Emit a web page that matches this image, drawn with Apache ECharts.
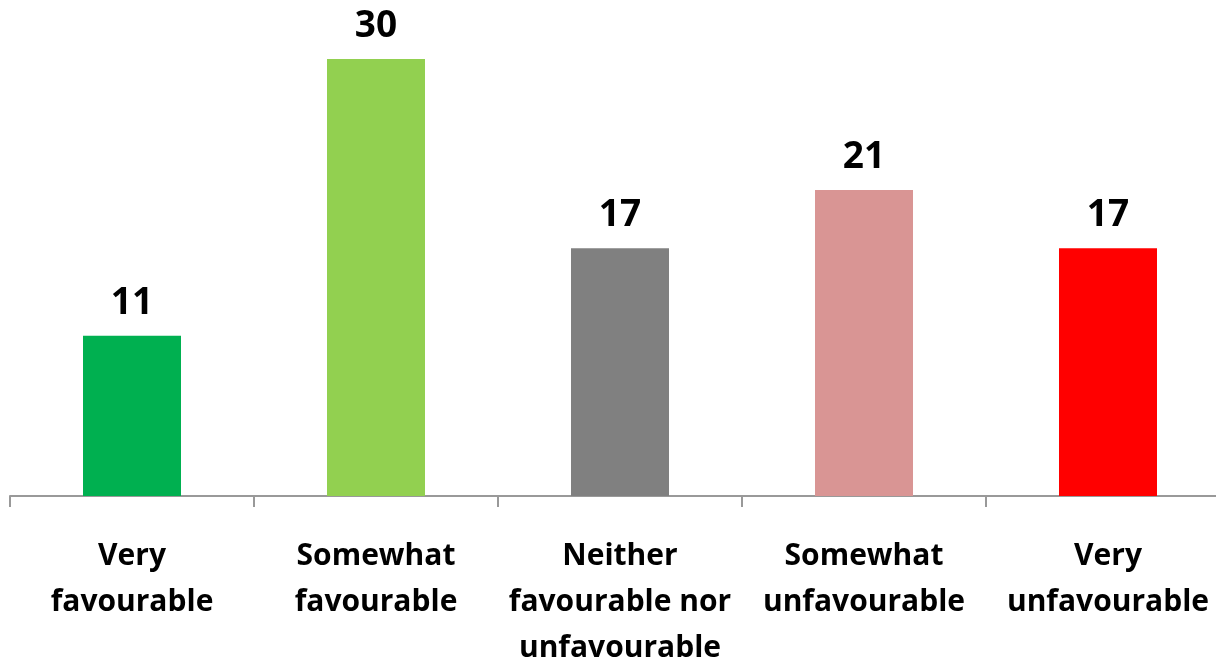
<!DOCTYPE html>
<html>
<head>
<meta charset="utf-8">
<script src="https://cdn.jsdelivr.net/npm/echarts@6/dist/echarts.min.js"></script>
<style>html,body{margin:0;padding:0;background:#fff}#c{width:1216px;height:660px}</style>
</head>
<body>
<div id="c"></div>
<script>
const categories = ['Very\nfavourable', 'Somewhat\nfavourable', 'Neither\nfavourable nor\nunfavourable', 'Somewhat\nunfavourable', 'Very\nunfavourable'];
const values = [11, 30, 17, 21, 17];
const colors = ['#00B050', '#92D050', '#808080', '#D99594', '#FF0000'];

const chart = echarts.init(document.getElementById('c'));
chart.setOption({
  animation: false,
  backgroundColor: '#ffffff',
  grid: { left: 10, width: 1220, top: 59, height: 437, containLabel: false, outerBoundsMode: 'none' },
  xAxis: {
    type: 'category',
    data: categories,
    axisLine: { lineStyle: { color: '#999999', width: 2 } },
    axisTick: { show: true, length: 11, lineStyle: { color: '#999999', width: 2 } },
    axisLabel: {
      interval: 0,
      margin: 37,
      color: '#000000',
      fontFamily: 'Open Sans',
      fontWeight: 'bold',
      fontSize: 30,
      lineHeight: 46
    }
  },
  yAxis: {
    type: 'value',
    min: 0,
    max: 30,
    show: false,
    splitLine: { show: false }
  },
  series: [{
    type: 'bar',
    data: values.map((v, i) => ({ value: v, itemStyle: { color: colors[i] } })),
    barWidth: 98,
    label: {
      show: true,
      position: 'top',
      distance: 14,
      color: '#000000',
      fontFamily: 'Open Sans',
      fontWeight: 'bold',
      fontSize: 37
    }
  }]
});
</script>
</body>
</html>
